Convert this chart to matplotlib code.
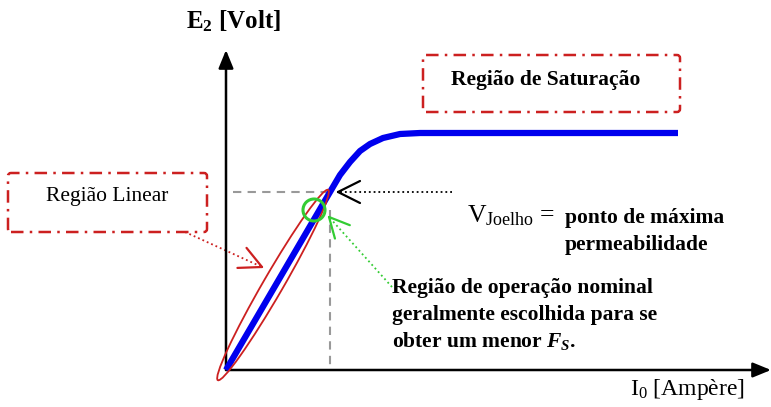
import numpy as np
import matplotlib.pyplot as plt
from matplotlib.patches import Ellipse, Circle, FancyBboxPatch

plt.rcParams['font.family'] = ['Liberation Serif', 'DejaVu Serif']
plt.rcParams['mathtext.fontset'] = 'custom'
plt.rcParams['mathtext.rm'] = 'Liberation Serif'
plt.rcParams['mathtext.it'] = 'Liberation Serif:italic:bold'
plt.rcParams['mathtext.bf'] = 'Liberation Serif:bold'
plt.rcParams['mathtext.default'] = 'regular'

# curva de magnetizacao (unidades arbitrarias)
I0 = [0, 52, 104, 114, 124, 134, 144, 157, 174, 194, 452]
E2 = [0, 89, 178, 195, 208, 219, 226, 232, 236, 237, 237]
knee = 2  # indice do joelho

RED = '#cc2020'
GREEN = '#33cc33'


def open_arrow(ax, tail, tip, color, ls=':', lw=1.3, hl=22, hw=11):
    tail = np.array(tail, float)
    tip = np.array(tip, float)
    ax.plot([tail[0], tip[0]], [tail[1], tip[1]], ls=ls, color=color, lw=lw)
    d = (tail - tip) / np.linalg.norm(tail - tip)
    n = np.array([-d[1], d[0]])
    for s in (1, -1):
        p = tip + d * hl + s * n * hw
        ax.plot([tip[0], p[0]], [tip[1], p[1]], color=color, lw=1.6,
                solid_capstyle='round')


fig = plt.figure(figsize=(7.71, 4.07), dpi=100)
ax = fig.add_axes([0, 0, 1, 1])
ax.set_xlim(-226, 545)
ax.set_ylim(-37, 370)
ax.axis('off')

# eixos
ax.annotate('', xy=(545, 0), xytext=(0, 0),
            arrowprops=dict(arrowstyle='-|>,head_length=1.1,head_width=0.45',
                            color='black', lw=1.8, shrinkA=0, shrinkB=0))
ax.annotate('', xy=(0, 320), xytext=(0, 0),
            arrowprops=dict(arrowstyle='-|>,head_length=1.1,head_width=0.45',
                            color='black', lw=1.8, shrinkA=0, shrinkB=0))
ax.text(-40, 342, 'E$_2$ [Volt]', fontsize=18, fontweight='bold',
        ha='left', va='baseline')
ax.text(404, -25, 'I$_0$ [Ampère]', fontsize=17, ha='left', va='baseline')

# linhas de referencia do joelho
ax.plot([7, I0[knee]], [E2[knee], E2[knee]], ls=(0, (4, 3)), color='#999999', lw=1.5)
ax.plot([I0[knee], I0[knee]], [E2[knee] - 18, 0], ls=(0, (4, 3)), color='#999999', lw=1.5)

# curva
ax.plot(I0, E2, color='#0000ee', lw=4.5, solid_capstyle='butt',
        solid_joinstyle='round', zorder=3)

# regiao linear
ax.add_patch(Ellipse((47, 85), 220, 20, angle=59.9, fill=False, ec=RED, lw=1.3, zorder=4))
ax.add_patch(FancyBboxPatch((-218, 138), 199, 59, boxstyle='round,pad=0,rounding_size=3',
                            fill=False, ec=RED, lw=1.8, ls=(0, (5, 2.5, 1, 2.5))))
ax.text(-119, 173, 'Região Linear', fontsize=15.5, ha='center', va='center')
open_arrow(ax, (-41, 138), (36, 103), RED)

# regiao de saturacao
ax.add_patch(FancyBboxPatch((197, 258), 257, 57, boxstyle='round,pad=0,rounding_size=3',
                            fill=False, ec=RED, lw=1.8, ls=(0, (5, 2.5, 1, 2.5))))
ax.text(320, 290, 'Região de Saturação', fontsize=15.5, fontweight='bold',
        ha='center', va='center')

# joelho
open_arrow(ax, (226, 178), (112, 178), 'black')
ax.text(241, 148, 'V$_{Joelho}$ =', fontsize=18.5, ha='left', va='baseline')
ax.text(339, 147, 'ponto de máxima', fontsize=15.5, fontweight='bold',
        ha='left', va='baseline')
ax.text(339, 120, 'permeabilidade', fontsize=15.5, fontweight='bold',
        ha='left', va='baseline')

# regiao de operacao nominal
ax.add_patch(Circle((88, 160), 11, fill=False, ec=GREEN, lw=2.2, zorder=5))
open_arrow(ax, (166, 83), (103, 153), GREEN, hl=20, hw=10)
ax.text(166, 77, 'Região de operação nominal', fontsize=15.5, fontweight='bold',
        ha='left', va='baseline')
ax.text(166, 50, 'geralmente escolhida para se', fontsize=15.5, fontweight='bold',
        ha='left', va='baseline')
ax.text(166, 23, 'obter um menor $\\mathit{F_S}$.', fontsize=15.5, fontweight='bold',
        ha='left', va='baseline')

fig.savefig('out.png', dpi=100)
